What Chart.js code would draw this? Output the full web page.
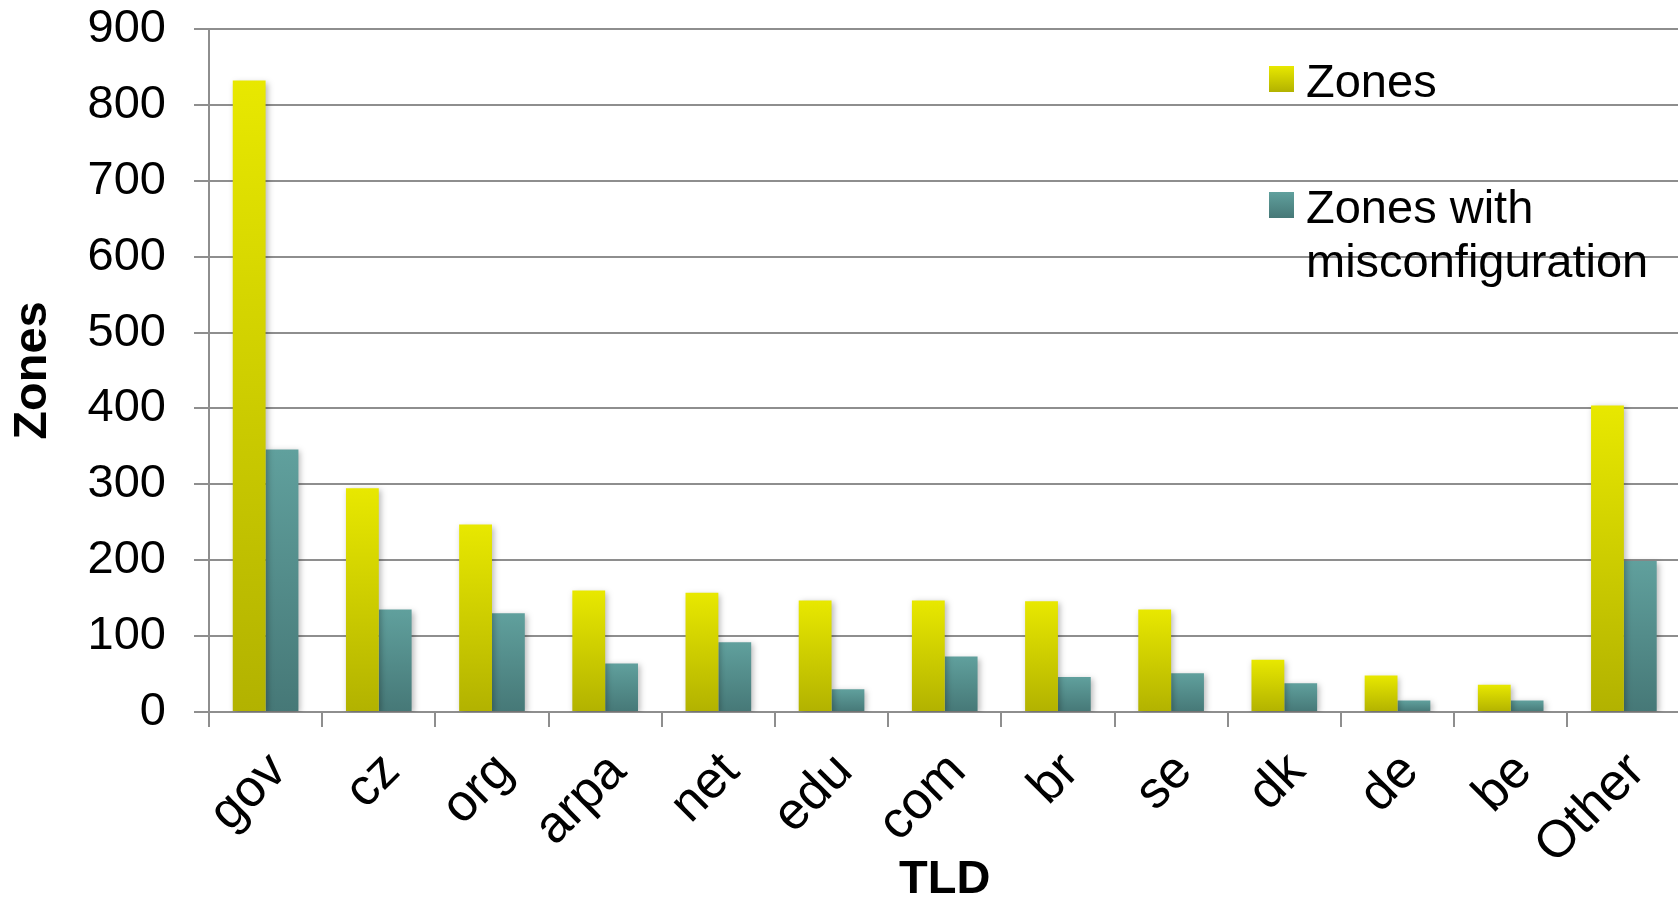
<!DOCTYPE html>
<html>
<head>
<meta charset="utf-8">
<title>Zones per TLD</title>
<script src="https://cdn.jsdelivr.net/npm/chart.js@4/dist/chart.umd.min.js"></script>
<style>
  html, body { margin: 0; padding: 0; background: #fff; overflow: hidden; }
  #wrap { width: 1682px; height: 901px; }
</style>
</head>
<body>
<div id="wrap"><canvas id="tldChart" width="1682" height="901"></canvas></div>
<script>
// data
const tlds = ['gov', 'cz', 'org', 'arpa', 'net', 'edu', 'com', 'br', 'se', 'dk', 'de', 'be', 'Other'];
const zones = [832, 295, 247, 160, 157, 147, 147, 146, 135, 69, 48, 36, 404];
const misconfigured = [346, 135, 130, 64, 92, 30, 73, 46, 51, 38, 15, 15, 199];
const seriesNames = ['Zones', 'Zones with misconfiguration'];
const yTicks = [0, 100, 200, 300, 400, 500, 600, 700, 800, 900];

const FONT = '"Liberation Sans", Arial, sans-serif';
const GRID = '#8e8e8e';
const yellow = ['rgb(232,232,0)', 'rgb(178,178,0)'];
const teal = ['rgb(96,160,157)', 'rgb(70,120,119)'];

// vertical gradient from the top of each bar down to the zero line
function barFill(stops) {
    return function (context) {
        const chart = context.chart;
        if (!chart.chartArea || context.type !== 'data') return stops[0];
        const y = chart.scales.y;
        const top = y.getPixelForValue(context.raw);
        const base = y.getPixelForValue(0);
        const g = chart.ctx.createLinearGradient(0, top, 0, base);
        g.addColorStop(0, stops[0]);
        g.addColorStop(1, stops[1]);
        return g;
    };
}

const barShadow = {
    id: 'barShadow',
    beforeDatasetsDraw(chart) {
        const ctx = chart.ctx;
        ctx.save();
        ctx.shadowColor = 'rgba(0,0,0,0.28)';
        ctx.shadowBlur = 6;
        ctx.shadowOffsetX = 2;
        ctx.shadowOffsetY = 2;
    },
    afterDatasetsDraw(chart) {
        chart.ctx.restore();
    }
};

// legend sits inside the plot, top right, with a wrapped second label
const sideLegend = {
    id: 'sideLegend',
    afterDraw(chart) {
        const ctx = chart.ctx;
        const fills = [yellow, teal];
        const boxX = 1269, textX = 1306, lineH = 54;
        const baselines = [97, 223];
        ctx.save();
        ctx.font = '47px ' + FONT;
        ctx.fillStyle = '#000';
        ctx.textBaseline = 'alphabetic';
        ctx.textAlign = 'left';
        chart.data.datasets.forEach((ds, i) => {
            const words = ds.label.split(' ');
            const lines = [];
            let cur = '';
            words.forEach(w => {
                const t = cur ? cur + ' ' + w : w;
                if (cur && ctx.measureText(t).width > 360) {
                    lines.push(cur);
                    cur = w;
                } else {
                    cur = t;
                }
            });
            lines.push(cur);
            const b = baselines[i];
            const g = ctx.createLinearGradient(0, b - 31, 0, b - 5);
            g.addColorStop(0, fills[i][0]);
            g.addColorStop(1, fills[i][1]);
            ctx.fillStyle = g;
            ctx.fillRect(boxX, b - 31, 25, 26);
            ctx.fillStyle = '#000';
            lines.forEach((ln, k) => ctx.fillText(ln, textX, b + k * lineH));
        });
        ctx.restore();
    }
};

const ctx = document.getElementById('tldChart').getContext('2d');

new Chart(ctx, {
    type: 'bar',
    data: {
        labels: tlds,
        datasets: [{
            label: seriesNames[0],
            data: zones,
            backgroundColor: barFill(yellow),
            borderWidth: 0
        }, {
            label: seriesNames[1],
            data: misconfigured,
            backgroundColor: barFill(teal),
            borderWidth: 0
        }]
    },
    options: {
        responsive: false,
        animation: false,
        devicePixelRatio: 1,
        categoryPercentage: 0.58,
        barPercentage: 1.0,
        layout: { padding: { top: 29, left: 0, right: 0, bottom: 0 } },
        plugins: {
            legend: { display: false },
            tooltip: { enabled: false }
        },
        scales: {
            x: {
                grid: {
                    display: true,
                    drawOnChartArea: false,
                    drawTicks: true,
                    tickLength: 15,
                    color: GRID,
                    lineWidth: 2,
                    offset: true
                },
                border: { display: true, color: GRID, width: 2 },
                ticks: {
                    color: '#000',
                    font: { family: FONT, size: 52 },
                    minRotation: 45,
                    maxRotation: 45,
                    autoSkip: false,
                    padding: 14,
                    labelOffset: 13
                },
                title: {
                    display: true,
                    text: 'TLD',
                    color: '#000',
                    font: { family: FONT, size: 47, weight: 'bold', lineHeight: 0.9 },
                    padding: 0
                },
                afterFit(scale) { scale.height = 189; }
            },
            y: {
                min: 0,
                max: 900,
                afterBuildTicks(scale) {
                    scale.ticks = yTicks.map(v => ({ value: v }));
                },
                grid: {
                    color: GRID,
                    lineWidth: 2,
                    drawTicks: true,
                    tickLength: 15
                },
                border: { display: true, color: GRID, width: 2 },
                ticks: {
                    color: '#000',
                    font: { family: FONT, size: 47 },
                    padding: 28
                },
                title: {
                    display: true,
                    text: 'Zones',
                    color: '#000',
                    font: { family: FONT, size: 47, weight: 'bold', lineHeight: 1.2 },
                    padding: { top: 5, bottom: 0 }
                },
                afterFit(scale) {
                    scale.width = 209;
                    // label padding should not push the plot down
                    scale.paddingTop = 0;
                    scale.paddingBottom = 0;
                }
            }
        }
    },
    plugins: [barShadow, sideLegend]
});
</script>
</body>
</html>
